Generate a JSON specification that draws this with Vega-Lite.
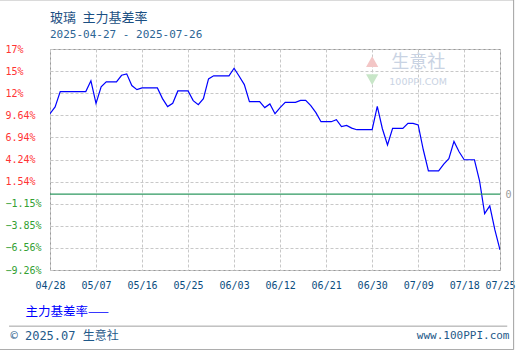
{
  "$schema": "https://vega.github.io/schema/vega-lite/v6.json",
  "width": 450,
  "height": 221,
  "autosize": {"type": "none"},
  "padding": {"left": 50, "top": 49, "right": 20, "bottom": 80},
  "background": "white",
  "title": {
    "text": "玻璃\u2002主力基差率",
    "subtitle": "2025-04-27 - 2025-07-26",
    "anchor": "start",
    "frame": "group",
    "offset": -41,
    "font": "Noto Sans CJK SC",
    "fontSize": 13,
    "fontWeight": "normal",
    "color": "#1b4f82",
    "subtitleFont": "DejaVu Sans Mono",
    "subtitleFontSize": 11,
    "subtitleColor": "#2d6594",
    "subtitlePadding": 4
  },
  "datasets": {
    "basis": [
      {"date": "2025-04-28", "value": 9.84},
      {"date": "2025-04-29", "value": 10.66},
      {"date": "2025-04-30", "value": 12.54},
      {"date": "2025-05-05", "value": 12.54},
      {"date": "2025-05-06", "value": 13.85},
      {"date": "2025-05-07", "value": 11.10},
      {"date": "2025-05-08", "value": 13.11},
      {"date": "2025-05-09", "value": 13.72},
      {"date": "2025-05-11", "value": 13.72},
      {"date": "2025-05-12", "value": 14.53},
      {"date": "2025-05-13", "value": 14.70},
      {"date": "2025-05-14", "value": 13.27},
      {"date": "2025-05-15", "value": 12.78},
      {"date": "2025-05-16", "value": 12.99},
      {"date": "2025-05-19", "value": 12.99},
      {"date": "2025-05-20", "value": 11.68},
      {"date": "2025-05-21", "value": 10.70},
      {"date": "2025-05-22", "value": 11.10},
      {"date": "2025-05-23", "value": 12.62},
      {"date": "2025-05-25", "value": 12.62},
      {"date": "2025-05-26", "value": 11.43},
      {"date": "2025-05-27", "value": 10.94},
      {"date": "2025-05-28", "value": 11.68},
      {"date": "2025-05-29", "value": 14.09},
      {"date": "2025-05-30", "value": 14.46},
      {"date": "2025-06-02", "value": 14.46},
      {"date": "2025-06-03", "value": 15.39},
      {"date": "2025-06-04", "value": 14.41},
      {"date": "2025-06-05", "value": 13.39},
      {"date": "2025-06-06", "value": 11.31},
      {"date": "2025-06-08", "value": 11.31},
      {"date": "2025-06-09", "value": 10.58},
      {"date": "2025-06-10", "value": 11.03},
      {"date": "2025-06-11", "value": 9.84},
      {"date": "2025-06-12", "value": 10.58},
      {"date": "2025-06-13", "value": 11.23},
      {"date": "2025-06-15", "value": 11.23},
      {"date": "2025-06-16", "value": 11.47},
      {"date": "2025-06-17", "value": 11.47},
      {"date": "2025-06-18", "value": 10.82},
      {"date": "2025-06-19", "value": 9.96},
      {"date": "2025-06-20", "value": 8.86},
      {"date": "2025-06-22", "value": 8.86},
      {"date": "2025-06-23", "value": 9.11},
      {"date": "2025-06-24", "value": 8.25},
      {"date": "2025-06-25", "value": 8.41},
      {"date": "2025-06-26", "value": 8.07},
      {"date": "2025-06-27", "value": 7.88},
      {"date": "2025-06-30", "value": 7.88},
      {"date": "2025-07-01", "value": 10.74},
      {"date": "2025-07-02", "value": 8.00},
      {"date": "2025-07-03", "value": 6.01},
      {"date": "2025-07-04", "value": 8.04},
      {"date": "2025-07-06", "value": 8.04},
      {"date": "2025-07-07", "value": 8.65},
      {"date": "2025-07-08", "value": 8.65},
      {"date": "2025-07-09", "value": 8.46},
      {"date": "2025-07-10", "value": 5.43},
      {"date": "2025-07-11", "value": 2.86},
      {"date": "2025-07-13", "value": 2.86},
      {"date": "2025-07-14", "value": 3.68},
      {"date": "2025-07-15", "value": 4.33},
      {"date": "2025-07-16", "value": 6.45},
      {"date": "2025-07-17", "value": 5.19},
      {"date": "2025-07-18", "value": 4.21},
      {"date": "2025-07-20", "value": 4.21},
      {"date": "2025-07-21", "value": 1.64},
      {"date": "2025-07-22", "value": -2.37},
      {"date": "2025-07-23", "value": -1.42},
      {"date": "2025-07-24", "value": -4.36},
      {"date": "2025-07-25", "value": -6.81}
    ]
  },
  "layer": [
    {
      "data": {"name": "basis", "format": {"parse": {"date": "date:'%Y-%m-%d'"}}},
      "mark": {"type": "line", "color": "#0000ff", "strokeWidth": 1.2, "clip": true},
      "encoding": {
        "x": {
          "field": "date",
          "type": "temporal",
          "scale": {"domain": [{"year": 2025, "month": 4, "date": 28}, {"year": 2025, "month": 7, "date": 25}]},
          "axis": {
            "orient": "bottom",
            "values": [
              {"year": 2025, "month": 4, "date": 28},
              {"year": 2025, "month": 5, "date": 7},
              {"year": 2025, "month": 5, "date": 16},
              {"year": 2025, "month": 5, "date": 25},
              {"year": 2025, "month": 6, "date": 3},
              {"year": 2025, "month": 6, "date": 12},
              {"year": 2025, "month": 6, "date": 21},
              {"year": 2025, "month": 6, "date": 30},
              {"year": 2025, "month": 7, "date": 9},
              {"year": 2025, "month": 7, "date": 18},
              {"year": 2025, "month": 7, "date": 25}
            ],
            "labelExpr": "timeFormat(datum.value, '%m/%d')",
            "grid": true,
            "gridColor": "#c8c8c8",
            "gridDash": [3, 2],
            "domain": false,
            "ticks": false,
            "labelFont": "DejaVu Sans Mono",
            "labelFontSize": 10,
            "labelColor": "#0b4d80",
            "labelPadding": 10,
            "labelOverlap": false,
            "labelFlush": false,
            "title": "主力基差率——",
            "titleX": -25,
            "titleY": 41,
            "titleAlign": "left",
            "titleBaseline": "middle",
            "titleFont": "Noto Sans CJK SC",
            "titleFontSize": 12.5,
            "titleFontWeight": "normal",
            "titleColor": "#0000ff"
          }
        },
        "y": {
          "field": "value",
          "type": "quantitative",
          "scale": {"domain": [-9.26, 17.74], "nice": false, "zero": false},
          "axis": {
            "orient": "left",
            "values": [-9.26, -6.56, -3.85, -1.15, 1.54, 4.24, 6.94, 9.64, 12.34, 15.04, 17.74],
            "labelExpr": "datum.value > 11 ? floor(datum.value) + '%' : format(datum.value, '.2f') + '%'",
            "grid": true,
            "gridColor": "#c8c8c8",
            "gridDash": [3, 2],
            "domain": false,
            "ticks": false,
            "labelAlign": "left",
            "labelBaseline": "middle",
            "labelPadding": 45,
            "labelFont": "DejaVu Sans Mono",
            "labelFontSize": 10,
            "labelColor": {"condition": {"test": "datum.value < 0", "value": "#33a033"}, "value": "#ff3333"},
            "labelOverlap": false,
            "labelFlush": false,
            "title": "© 2025.07 生意社",
            "titleAngle": 0,
            "titleX": -40,
            "titleY": 286,
            "titleAlign": "left",
            "titleBaseline": "middle",
            "titleFont": "DejaVu Sans Mono, Noto Sans CJK SC",
            "titleFontSize": 12,
            "titleFontWeight": "normal",
            "titleColor": "#1f5a8a"
          }
        }
      }
    },
    {
      "data": {"values": [{"value": 0}]},
      "mark": {"type": "rule", "color": "#2e9960", "strokeWidth": 1.3},
      "encoding": {
        "y": {
          "field": "value",
          "type": "quantitative",
          "axis": {
            "orient": "right",
            "values": [0],
            "grid": false,
            "ticks": false,
            "domain": false,
            "labelPadding": 5,
            "labelFont": "DejaVu Sans Mono",
            "labelFontSize": 10,
            "labelColor": "#999999",
            "title": "www.100PPI.com",
            "titleAngle": 0,
            "titleX": 9,
            "titleY": 286,
            "titleAlign": "right",
            "titleBaseline": "middle",
            "titleFont": "DejaVu Sans Mono",
            "titleFontSize": 11,
            "titleFontWeight": "normal",
            "titleColor": "#1f5a8a"
          }
        }
      }
    },
    {
      "data": {"values": [{}]},
      "mark": {"type": "rule", "color": "#a0a0a0", "strokeWidth": 1, "clip": false},
      "encoding": {
        "x": {"datum": {"year": 2025, "month": 4, "date": 20}, "type": "temporal", "axis": null},
        "x2": {"datum": {"year": 2025, "month": 7, "date": 26, "hours": 10}},
        "y": {"datum": -16.12, "type": "quantitative", "axis": null}
      }
    },
    {
      "data": {"values": [{}]},
      "mark": {"type": "rect", "fill": null, "fillOpacity": 0, "stroke": "#a0a0a0", "strokeWidth": 1, "clip": false},
      "encoding": {
        "x": {"datum": {"year": 2025, "month": 4, "date": 18, "hours": 2}, "type": "temporal", "axis": null},
        "x2": {"datum": {"year": 2025, "month": 7, "date": 27, "hours": 16}},
        "y": {"datum": 23.74, "type": "quantitative", "axis": null},
        "y2": {"datum": -18.99}
      }
    },
    {
      "data": {"values": [{}]},
      "mark": {"type": "text", "text": "生意社", "font": "Noto Sans CJK SC", "fontSize": 18, "color": "#c9d3e3", "align": "center", "baseline": "middle"},
      "encoding": {
        "x": {"datum": {"year": 2025, "month": 7, "date": 9}, "type": "temporal", "axis": null},
        "y": {"datum": 16.0, "type": "quantitative", "axis": null}
      }
    },
    {
      "data": {"values": [{}]},
      "mark": {"type": "text", "text": "100PPI.COM", "font": "DejaVu Sans", "fontSize": 9.5, "color": "#c9d3e3", "align": "center", "baseline": "middle"},
      "encoding": {
        "x": {"datum": {"year": 2025, "month": 7, "date": 9}, "type": "temporal", "axis": null},
        "y": {"datum": 13.7, "type": "quantitative", "axis": null}
      }
    },
    {
      "data": {"values": [{}]},
      "mark": {"type": "point", "shape": "triangle-up", "filled": true, "color": "#f3c6c6", "size": 150, "opacity": 1},
      "encoding": {
        "x": {"datum": {"year": 2025, "month": 6, "date": 30}, "type": "temporal", "axis": null},
        "y": {"datum": 16.2, "type": "quantitative", "axis": null}
      }
    },
    {
      "data": {"values": [{}]},
      "mark": {"type": "point", "shape": "triangle-down", "filled": true, "color": "#c8e6c8", "size": 150, "opacity": 1},
      "encoding": {
        "x": {"datum": {"year": 2025, "month": 6, "date": 30}, "type": "temporal", "axis": null},
        "y": {"datum": 14.0, "type": "quantitative", "axis": null}
      }
    }
  ],
  "resolve": {"axis": {"x": "independent", "y": "independent"}},
  "config": {
    "view": {"stroke": "#999999", "strokeWidth": 1}
  }
}
